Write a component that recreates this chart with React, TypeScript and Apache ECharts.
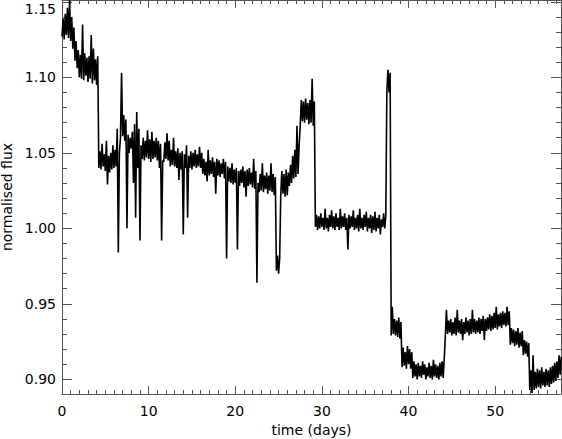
import React, { useEffect, useRef } from "react";
import * as echarts from "echarts";

// Sampling cadence of the band readings (days)
const binStep = 0.25;

// Lower edge of the flux band in each 0.25-day bin
const bandLow = [
  1.127, 1.125, 1.128, 1.126,
  1.124, 1.119, 1.111, 1.106,
  1.100, 1.099, 1.098, 1.101,
  1.097, 1.099, 1.096, 1.098,
  1.095, 1.040, 1.039, 1.041,
  1.038, 1.029, 1.037, 1.039,
  1.040, 1.041, 0.984, 1.060,
  1.061, 1.058, 1.000, 1.050,
  1.053, 1.030, 1.007, 1.040,
  0.992, 1.046, 1.045, 1.047,
  1.046, 1.044, 1.046, 1.047,
  1.045, 1.040, 0.992, 1.044,
  1.046, 1.045, 1.041, 1.042,
  1.041, 1.040, 1.032, 1.039,
  0.996, 1.040, 1.007, 1.040,
  1.039, 1.041, 1.040, 1.041,
  1.040, 1.036, 1.035, 1.031,
  1.035, 1.036, 1.034, 1.023,
  1.035, 1.034, 1.036, 1.033,
  0.980, 1.031, 1.030, 1.029,
  1.030, 0.986, 1.028, 1.030,
  1.027, 1.021, 1.028, 1.029,
  1.027, 1.026, 0.964, 1.024,
  1.025, 1.024, 1.026, 1.023,
  1.025, 1.024, 1.022, 0.972,
  0.970, 1.022, 1.023, 1.021,
  1.022, 1.028, 1.030, 1.033,
  1.034, 1.036, 1.068, 1.071,
  1.070, 1.072, 1.069, 1.070,
  1.068, 1.001, 0.999, 1.000,
  1.001, 0.999, 1.000, 0.998,
  1.001, 1.000, 0.999, 1.001,
  0.999, 1.000, 1.001, 0.999,
  0.986, 1.000, 1.001, 0.999,
  1.000, 0.998, 1.000, 0.999,
  1.001, 0.998, 1.000, 0.997,
  0.999, 0.998, 1.000, 0.996,
  1.001, 1.000, 1.091, 1.090,
  0.929, 0.930, 0.929, 0.928,
  0.927, 0.908, 0.909, 0.907,
  0.910, 0.907, 0.901, 0.902,
  0.900, 0.902, 0.901, 0.903,
  0.900, 0.902, 0.901, 0.900,
  0.902, 0.901, 0.900, 0.902,
  0.901, 0.929, 0.930, 0.931,
  0.929, 0.930, 0.929, 0.931,
  0.930, 0.926, 0.930, 0.931,
  0.929, 0.930, 0.931, 0.930,
  0.931, 0.930, 0.932, 0.926,
  0.932, 0.933, 0.932, 0.933,
  0.934, 0.933, 0.935, 0.934,
  0.936, 0.935, 0.936, 0.923,
  0.924, 0.922, 0.923, 0.921,
  0.922, 0.916, 0.917, 0.915,
  0.893, 0.891, 0.893, 0.894,
  0.895, 0.894, 0.896, 0.895,
  0.896, 0.895, 0.897, 0.898,
  0.899, 0.901, 0.903,
];

// Upper edge of the flux band in each 0.25-day bin
const bandHigh = [
  1.139, 1.142, 1.146, 1.151,
  1.140, 1.133, 1.124, 1.118,
  1.115, 1.135, 1.116, 1.113,
  1.114, 1.128, 1.119, 1.112,
  1.114, 1.051, 1.056, 1.049,
  1.058, 1.048, 1.050, 1.055,
  1.052, 1.066, 1.050, 1.103,
  1.075, 1.072, 1.062, 1.060,
  1.064, 1.069, 1.077, 1.066,
  1.055, 1.060, 1.058, 1.065,
  1.059, 1.064, 1.058, 1.060,
  1.058, 1.056, 1.045, 1.057,
  1.063, 1.058, 1.052, 1.060,
  1.051, 1.053, 1.050, 1.051,
  1.049, 1.055, 1.048, 1.051,
  1.050, 1.052, 1.049, 1.054,
  1.050, 1.046, 1.044, 1.052,
  1.045, 1.047, 1.044, 1.046,
  1.045, 1.043, 1.046, 1.044,
  1.041, 1.040, 1.043, 1.039,
  1.040, 1.038, 1.039, 1.041,
  1.038, 1.039, 1.040, 1.037,
  1.046, 1.038, 1.030, 1.036,
  1.043, 1.035, 1.037, 1.035,
  1.043, 1.036, 1.034, 0.982,
  0.980, 1.038, 1.036, 1.039,
  1.037, 1.042, 1.048, 1.052,
  1.068, 1.055, 1.085, 1.084,
  1.086, 1.083, 1.085, 1.099,
  1.084, 1.009, 1.008, 1.010,
  1.007, 1.013, 1.007, 1.009,
  1.012, 1.008, 1.010, 1.007,
  1.013, 1.008, 1.010, 1.007,
  1.009, 1.008, 1.012, 1.007,
  1.009, 1.013, 1.007, 1.009,
  1.011, 1.007, 1.009, 1.008,
  1.011, 1.007, 1.009, 1.006,
  1.010, 1.008, 1.105, 1.103,
  0.948, 0.940, 0.939, 0.941,
  0.938, 0.921, 0.918, 0.922,
  0.920, 0.918, 0.912, 0.910,
  0.911, 0.909, 0.912, 0.910,
  0.908, 0.911, 0.909, 0.913,
  0.910, 0.909, 0.911, 0.912,
  0.914, 0.946, 0.939, 0.940,
  0.938, 0.941, 0.946, 0.939,
  0.940, 0.938, 0.941, 0.939,
  0.940, 0.946, 0.940, 0.939,
  0.941, 0.940, 0.942, 0.940,
  0.941, 0.943, 0.942, 0.944,
  0.948, 0.943, 0.944, 0.945,
  0.944, 0.948, 0.945, 0.934,
  0.933, 0.932, 0.934, 0.931,
  0.932, 0.926, 0.925, 0.924,
  0.906, 0.916, 0.905, 0.907,
  0.906, 0.908, 0.905, 0.907,
  0.906, 0.908, 0.909, 0.911,
  0.912, 0.916, 0.915,
];

// Axis ticks
const xMajorTicks = [0, 10, 20, 30, 40, 50];
const yMajorTicks = [0.9, 0.95, 1.0, 1.05, 1.1, 1.15];
const xMinorTicks: number[] = [];
for (let d = 0; d <= 57; d++) xMinorTicks.push(d);
const yMinorTicks: number[] = [];
for (let k = 90; k <= 115; k++) yMinorTicks.push(k / 100);

const X_MIN = 0;
const X_MAX = 57.6;
const Y_MIN = 0.8903;
const Y_MAX = 1.1512;

const FONT = "DejaVu Sans";
const AXIS_COLOR = "#555";

export default function App() {
  const ref = useRef<HTMLDivElement>(null);

  useEffect(() => {
    document.body.style.margin = "0";
    if (!ref.current) return;
    const chart = echarts.init(ref.current, undefined, { renderer: "svg" });

    const seriesData: [number, number][] = [];
    for (let i = 0; i < bandLow.length; i++) {
      const t = i * binStep;
      seriesData.push([t, bandLow[i]]);
      seriesData.push([t + binStep / 2, bandHigh[i]]);
    }

    const baseX = (position: string, major: boolean, withLabel: boolean, name?: string) => ({
      type: "value",
      position,
      min: X_MIN,
      max: X_MAX,
      name,
      nameLocation: "middle",
      nameGap: 26,
      nameTextStyle: { fontFamily: FONT, fontSize: 14, color: "#000" },
      axisLine: { show: major, onZero: false, lineStyle: { color: AXIS_COLOR, width: 1 } },
      axisTick: {
        show: true,
        inside: true,
        length: major ? 8 : 4,
        customValues: major ? xMajorTicks : xMinorTicks,
        lineStyle: { color: AXIS_COLOR, width: 1 },
      },
      axisLabel: {
        show: withLabel,
        customValues: xMajorTicks,
        fontFamily: FONT,
        fontSize: 14,
        color: "#000",
        margin: 10,
        formatter: (v: number) => String(Math.round(v)),
      },
      splitLine: { show: false },
    });

    const baseY = (position: string, major: boolean, withLabel: boolean, name?: string) => ({
      type: "value",
      position,
      min: Y_MIN,
      max: Y_MAX,
      name,
      nameLocation: "middle",
      nameGap: 46,
      nameTextStyle: { fontFamily: FONT, fontSize: 14, color: "#000" },
      axisLine: { show: major, onZero: false, lineStyle: { color: AXIS_COLOR, width: 1 } },
      axisTick: {
        show: true,
        inside: true,
        length: major ? 10 : 5,
        customValues: major ? yMajorTicks : yMinorTicks,
        lineStyle: { color: AXIS_COLOR, width: 1 },
      },
      axisLabel: {
        show: withLabel,
        customValues: yMajorTicks,
        fontFamily: FONT,
        fontSize: 14,
        color: "#000",
        margin: 6,
        formatter: (v: number) => (v > 1.149 ? "{t|" + v.toFixed(2) + "}" : v.toFixed(2)),
        rich: {
          t: { fontFamily: FONT, fontSize: 14, color: "#000", padding: [15, 0, 0, 0] },
        },
      },
      splitLine: { show: false },
    });

    chart.setOption({
      animation: false,
      backgroundColor: "#fff",
      grid: {
        left: 62,
        right: 1,
        top: 0,
        bottom: 45,
        containLabel: false,
        outerBoundsMode: "none",
      },
      xAxis: [
        baseX("bottom", true, true, "time (days)"),
        baseX("bottom", false, false),
        baseX("top", true, false),
        baseX("top", false, false),
      ],
      yAxis: [
        baseY("left", true, true, "normalised flux"),
        baseY("left", false, false),
        baseY("right", true, false),
        baseY("right", false, false),
      ],
      series: [
        {
          type: "line",
          xAxisIndex: 0,
          yAxisIndex: 0,
          data: seriesData,
          symbol: "none",
          showSymbol: false,
          lineStyle: { color: "#000", width: 1.6, join: "bevel" },
          clip: true,
        },
      ],
    });

    return () => chart.dispose();
  }, []);

  return <div ref={ref} style={{ width: 562, height: 439 }} />;
}
